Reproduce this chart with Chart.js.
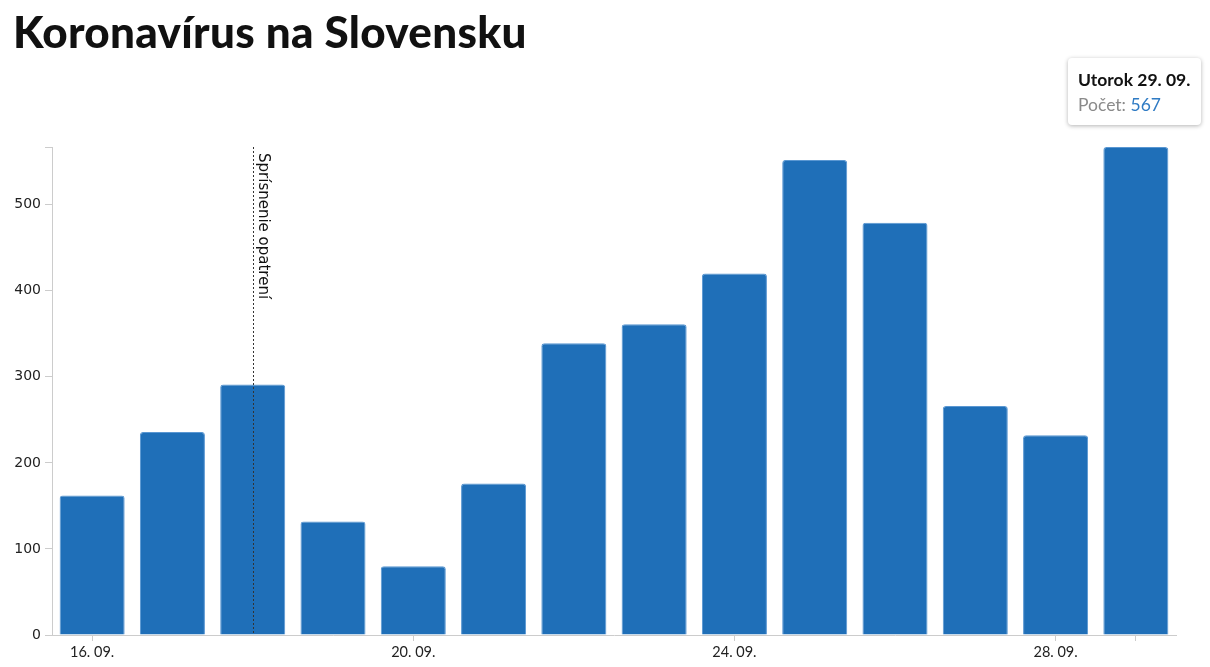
<!DOCTYPE html>
<html>
<head>
<meta charset="utf-8">
<script src="https://cdn.jsdelivr.net/npm/chart.js@4"></script>
<style>
  body { margin: 0; background: #fff; }
  #wrap { position: absolute; left: 0; top: 0; width: 1210px; height: 667px; }
  h1 {
    position: absolute; left: 13px; top: 5px; margin: 0;
    font-family: Lato, sans-serif; font-weight: 900; font-size: 44px; color: #111;
    letter-spacing: 0.3px;
  }
  .tip {
    position: absolute; left: 1068px; top: 58px; width: 133px; height: 67px;
    box-sizing: border-box; padding: 9px 0 0 10px;
    background: #fff; border-radius: 4px; box-shadow: 0 1px 4px rgba(0,0,0,0.3);
    font-family: Lato, sans-serif; font-size: 17.5px; line-height: 25px;
  }
  .tip b { color: #111; }
  .tip .lbl { color: #8a8a8a; }
  .tip .val { color: #2f7bc4; }
</style>
</head>
<body>
<div id="wrap">
  <canvas id="myChart" width="1210" height="667"></canvas>
</div>
<h1>Koronavírus na Slovensku</h1>
<div class="tip" id="tip"></div>

<script>
// Data
const days = ['16. 09.', '17. 09.', '18. 09.', '19. 09.', '20. 09.', '21. 09.', '22. 09.',
              '23. 09.', '24. 09.', '25. 09.', '26. 09.', '27. 09.', '28. 09.', '29. 09.'];
const cases = [162, 236, 291, 132, 80, 176, 339, 361, 420, 552, 479, 266, 232, 567];
const yTicks = [0, 100, 200, 300, 400, 500];
const tickDays = ['16. 09.', '20. 09.', '24. 09.', '28. 09.', '29. 09.'];
const labelDays = ['16. 09.', '20. 09.', '24. 09.', '28. 09.'];
const markerDay = '18. 09.';
const markerText = 'Sprísnenie opatrení';
const tipDay = 'Utorok';

// tooltip box (last day)
const last = days.length - 1;
document.getElementById('tip').innerHTML =
  '<b>' + tipDay + ' ' + days[last] + '</b><br><span class="lbl">Počet: </span><span class="val">' + cases[last] + '</span>';

// vertical marker line + top cap of y axis
const markerPlugin = {
  id: 'marker',
  afterDatasetsDraw(chart) {
    const ctx = chart.ctx;
    const area = chart.chartArea;
    ctx.save();
    ctx.strokeStyle = '#ccc';
    ctx.beginPath();
    ctx.moveTo(area.left - 7, area.top + 0.5);
    ctx.lineTo(area.left, area.top + 0.5);
    ctx.stroke();

    const x = Math.round(chart.scales.x.getPixelForValue(days.indexOf(markerDay))) + 0.5;
    ctx.strokeStyle = '#333';
    ctx.lineWidth = 1;
    ctx.setLineDash([2, 2]);
    ctx.beginPath();
    ctx.moveTo(x, area.top);
    ctx.lineTo(x, area.bottom);
    ctx.stroke();
    ctx.translate(x, area.top + 6);
    ctx.rotate(Math.PI / 2);
    ctx.fillStyle = '#111';
    ctx.font = '15px "DejaVu Sans"';
    ctx.textBaseline = 'bottom';
    ctx.fillText(markerText, 0, -2);
    ctx.restore();
  }
};

const ctx = document.getElementById('myChart').getContext('2d');

const myChart = new Chart(ctx, {
  type: 'bar',
  data: {
    labels: days,
    datasets: [{
      data: cases,
      backgroundColor: '#1f6fb8',
      borderColor: '#5a97d2',
      borderWidth: 1,
      borderRadius: 3,
      barPercentage: 0.81,
      categoryPercentage: 1
    }]
  },
  options: {
    responsive: false,
    animation: false,
    layout: { padding: { top: 147, right: 34, left: 0, bottom: 0 } },
    plugins: { legend: { display: false }, tooltip: { enabled: false } },
    scales: {
      x: {
        offset: true,
        border: { color: '#ccc' },
        grid: {
          drawOnChartArea: false,
          tickLength: 6,
          offset: false,
          color: (c) => tickDays.includes(days[c.index]) ? '#ccc' : 'rgba(0,0,0,0)'
        },
        ticks: {
          autoSkip: false,
          maxRotation: 0,
          padding: 3,
          color: '#222',
          font: { family: 'Lato', size: 14.5 },
          callback: (v, i) => labelDays.includes(days[i]) ? days[i] : ''
        },
        afterFit: (s) => { s.height = 32; }
      },
      y: {
        min: 0,
        max: Math.max(...cases),
        border: { color: '#ccc' },
        grid: { drawOnChartArea: false, tickLength: 7, color: '#ccc' },
        afterBuildTicks: (s) => { s.ticks = yTicks.map(v => ({ value: v })); },
        ticks: {
          padding: 4,
          color: '#222',
          font: { family: 'DejaVu Sans', size: 14 }
        },
        afterFit: (s) => { s.width = 52; }
      }
    }
  },
  plugins: [markerPlugin]
});
</script>
</body>
</html>
